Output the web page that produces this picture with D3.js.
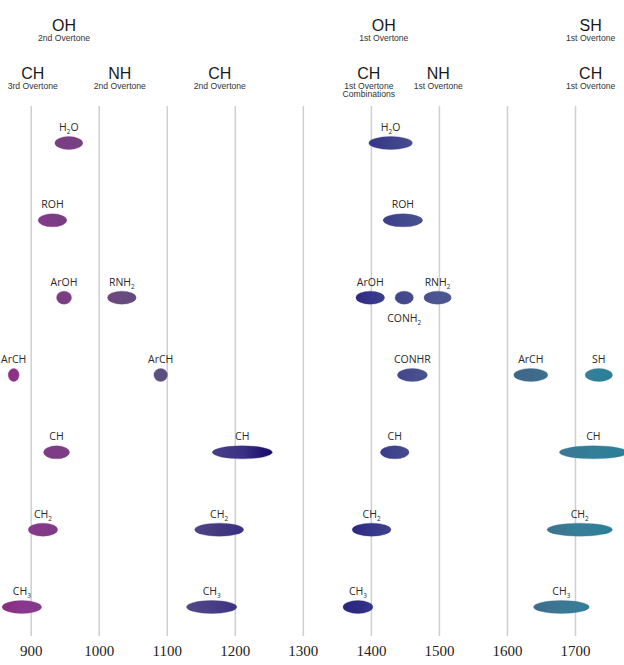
<!DOCTYPE html>
<html>
<head>
<meta charset="utf-8">
<script src="https://cdn.jsdelivr.net/npm/d3@7"></script>
<style>
  html, body { margin: 0; padding: 0; background: #ffffff; }
  svg { display: block; }
</style>
</head>
<body>
<div id="chart"></div>
<script>
// ---------- DATA ----------
const tickValues = [900, 1000, 1100, 1200, 1300, 1400, 1500, 1600, 1700];
const rows = ["H2O", "ROH", "ArOH/RNH2", "ArCH/SH", "CH", "CH2", "CH3"];

// header labels
const headerTitles = ["OH", "CH", "NH", "CH", "OH", "CH", "NH", "SH", "CH"];
const headerSubs = [
  ["2nd Overtone"], ["3rd Overtone"], ["2nd Overtone"], ["2nd Overtone"],
  ["1st Overtone"], ["1st Overtone", "Combinations"], ["1st Overtone"],
  ["1st Overtone"], ["1st Overtone"]
];
const headerWavenumbers = [949, 903, 1031, 1178, 1419, 1397, 1499, 1723, 1723];
const headerTiers = [0, 1, 1, 1, 0, 1, 1, 0, 1];

// absorption bands
const bandLabels = ["H2O", "ROH", "ArOH", "RNH2", "ArCH", "ArCH", "CH", "CH", "CH2", "CH2", "CH3", "CH3",
                    "H2O", "ROH", "ArOH", "CONH2", "RNH2", "CONHR", "ArCH", "SH", "CH", "CH", "CH2", "CH2", "CH3", "CH3"];
const bandRows = ["H2O", "ROH", "ArOH/RNH2", "ArOH/RNH2", "ArCH/SH", "ArCH/SH", "CH", "CH", "CH2", "CH2", "CH3", "CH3",
                  "H2O", "ROH", "ArOH/RNH2", "ArOH/RNH2", "ArOH/RNH2", "ArCH/SH", "ArCH/SH", "ArCH/SH", "CH", "CH", "CH2", "CH2", "CH3", "CH3"];
const bandCenters = [956, 932, 949, 1034, 875, 1091, 938, 1211, 918, 1177, 887, 1166,
                     1429, 1447, 1399, 1449, 1498, 1461, 1635, 1735, 1435, 1727, 1401, 1707, 1381, 1680];
const bandHalfWidths = [20.5, 21, 11, 21, 8, 10, 19, 44, 21.5, 36, 29, 37,
                        32, 29, 21, 13.5, 20, 22, 25, 20, 21, 50, 28.5, 48, 22, 41];
const bandLabelBelow = ["CONH2"];

// ---------- LAYOUT ----------
const W = 624, H = 665;
const x = d3.scaleLinear().domain([900, 1700]).range([30.7, 575]);
const y = d3.scalePoint().domain(rows).range([143, 607]);
const ry = 6;

const colorStops = [858, 890, 940, 1030, 1090, 1165, 1180, 1215, 1255, 1380, 1400, 1450, 1500, 1630, 1680, 1710, 1760];
const colorVals = ["#8c2a7c", "#8a3890", "#7c3c84", "#6a4a7e", "#5c5080", "#4a3f88", "#40387f", "#3a3085", "#140a6a",
                   "#2e2a80", "#36368a", "#444a8c", "#4c5790", "#3e6888", "#3c7794", "#368099", "#2a7e96"];
const color = d3.scaleLinear().domain(colorStops).range(colorVals).clamp(true);

const svg = d3.select("#chart").append("svg").attr("width", W).attr("height", H);
const defs = svg.append("defs");

// grid lines via axis
const axis = d3.axisBottom(x).tickValues(tickValues).tickSize(-(636 - 106)).tickFormat(d3.format("d")).tickPadding(12);
const gAxis = svg.append("g").attr("transform", "translate(0,636)").call(axis);
gAxis.select(".domain").remove();
gAxis.selectAll(".tick line").attr("stroke", "#cfcfcf").attr("stroke-width", 1.5);
gAxis.selectAll(".tick text")
  .attr("font-family", "'Liberation Serif', 'Times New Roman', serif")
  .attr("font-size", 15).attr("fill", "#222").attr("dy", "0.55em");

// headers
const headers = headerTitles.map((t, i) => ({ t, subs: headerSubs[i], w: headerWavenumbers[i], tier: headerTiers[i] }));
const gH = svg.append("g").attr("font-family", "'Liberation Sans', Arial, sans-serif").attr("fill", "#1a1a1a").attr("text-anchor", "middle");
headers.forEach(h => {
  const base = h.tier === 0 ? 31 : 79;
  gH.append("text").attr("x", x(h.w)).attr("y", base).attr("font-size", 16).text(h.t);
  h.subs.forEach((s, j) => {
    gH.append("text").attr("x", x(h.w)).attr("y", base + 9.5 + j * 8.5).attr("font-size", 8.6).attr("fill", "#333").text(s);
  });
});

// bands
const bands = bandLabels.map((l, i) => ({ label: l, row: bandRows[i], c: bandCenters[i], hw: bandHalfWidths[i], i }));

bands.forEach(b => {
  const g = defs.append("linearGradient").attr("id", "g" + b.i).attr("x1", "0%").attr("x2", "100%");
  g.append("stop").attr("offset", "0%").attr("stop-color", color(b.c - b.hw));
  g.append("stop").attr("offset", "50%").attr("stop-color", color(b.c));
  g.append("stop").attr("offset", "100%").attr("stop-color", color(b.c + b.hw));
});

const gB = svg.append("g");
gB.selectAll("ellipse").data(bands).join("ellipse")
  .attr("cx", d => x(d.c))
  .attr("cy", d => y(d.row))
  .attr("rx", d => x(d.c + d.hw) - x(d.c))
  .attr("ry", d => Math.max(ry, Math.min(6.5, x(d.c + d.hw) - x(d.c) + 1)))
  .attr("fill", d => `url(#g${d.i})`)
  .attr("stroke", d => color(d.c)).attr("stroke-opacity", 0.35).attr("stroke-width", 1);

const gL = svg.append("g").attr("font-family", "'Open Sans', 'Noto Sans', sans-serif").attr("font-size", 10.5)
  .attr("fill", "#2a2a2a").attr("text-anchor", "middle");
bands.forEach(b => {
  const below = bandLabelBelow.includes(b.label);
  const t = gL.append("text").attr("x", x(b.c)).attr("y", y(b.row) + (below ? 24 : -12));
  b.label.split(/(\d)/).filter(s => s.length).forEach(part => {
    if (/\d/.test(part)) {
      t.append("tspan").attr("font-size", 6.5).attr("baseline-shift", "-3").text(part);
    } else {
      t.append("tspan").text(part);
    }
  });
});
</script>
</body>
</html>
